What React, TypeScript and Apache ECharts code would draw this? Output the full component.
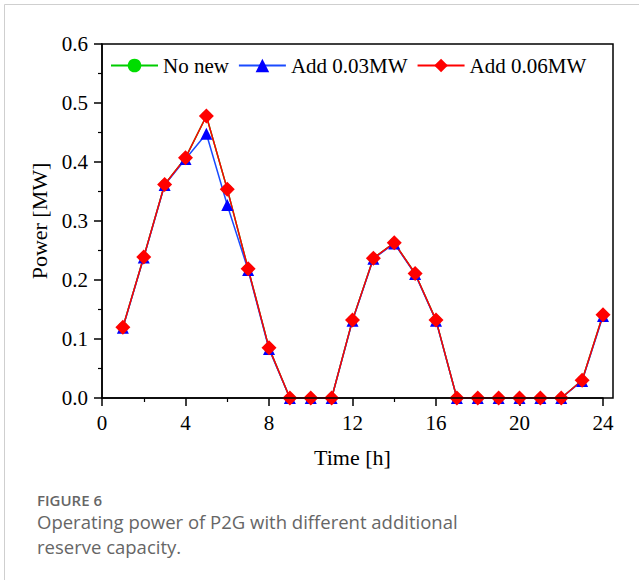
import React, { useEffect, useRef } from "react";
import * as echarts from "echarts";

// Hour of day, 1..24
const hours: number[] = Array.from({ length: 24 }, (_, i) => i + 1);

// P2G operating power [MW] for each reserve-capacity case
const noNew: number[] = [
  0.12, 0.239, 0.362, 0.407, 0.478, 0.354, 0.219, 0.085, 0, 0, 0, 0.132,
  0.237, 0.263, 0.211, 0.132, 0, 0, 0, 0, 0, 0, 0.03, 0.141,
];
const add003: number[] = [
  0.119, 0.238, 0.361, 0.405, 0.448, 0.327, 0.217, 0.083, 0, 0, 0, 0.131,
  0.236, 0.262, 0.21, 0.131, 0, 0, 0, 0, 0, 0, 0.029, 0.139,
];
const add006: number[] = [
  0.12, 0.239, 0.362, 0.407, 0.478, 0.354, 0.219, 0.085, 0, 0, 0, 0.132,
  0.237, 0.263, 0.211, 0.132, 0, 0, 0, 0, 0, 0, 0.03, 0.141,
];

const seriesNames: string[] = ["No new", "Add 0.03MW", "Add 0.06MW"];
const captionTitle = "FIGURE 6";
const captionLines: string[] = [
  "Operating power of P2G with different additional",
  "reserve capacity.",
];

const SERIF = "'Liberation Serif', 'Times New Roman', serif";
const SANS = "'Open Sans', 'Noto Sans', sans-serif";

const GRID = { left: 102, top: 44, width: 501, height: 354 };
const FRAME_RIGHT = 613;

export default function App() {
  const ref = useRef<HTMLDivElement>(null);

  useEffect(() => {
    if (!ref.current) return;
    const chart = echarts.init(ref.current, null, { renderer: "svg" });

    const pair = (vals: number[]) => hours.map((h, i) => [h, vals[i]]);

    const axisCommon = {
      axisLine: { show: true, lineStyle: { color: "#000", width: 1.5 } },
      axisTick: { show: true, inside: false, length: 8, lineStyle: { color: "#000", width: 1.5 } },
      minorTick: { show: true, splitNumber: 2, length: 4, lineStyle: { color: "#000", width: 1.2 } },
      splitLine: { show: false },
      axisLabel: { color: "#000", fontFamily: SERIF, fontSize: 21, margin: 14 },
      nameTextStyle: { color: "#000", fontFamily: SERIF, fontSize: 22 },
    };

    chart.setOption({
      animation: false,
      backgroundColor: "#fff",
      grid: { ...GRID, containLabel: false },
      legend: {
        left: 105,
        top: 50,
        itemWidth: 47,
        itemHeight: 17,
        itemGap: 9,
        textStyle: { color: "#000", fontFamily: SERIF, fontSize: 21 },
        data: seriesNames,
      },
      xAxis: {
        type: "value",
        min: 0,
        max: 24,
        interval: 4,
        name: "Time [h]",
        nameLocation: "middle",
        nameGap: 48,
        ...axisCommon,
      },
      yAxis: {
        type: "value",
        min: 0,
        max: 0.6,
        interval: 0.1,
        name: "Power [MW]",
        nameLocation: "middle",
        nameGap: 46,
        ...axisCommon,
        axisLabel: {
          ...axisCommon.axisLabel,
          formatter: (v: number) => v.toFixed(1),
        },
      },
      series: [
        {
          name: seriesNames[0],
          type: "line",
          data: pair(noNew),
          symbol: "circle",
          symbolSize: 10,
          lineStyle: { color: "#00cc00", width: 1.5 },
          itemStyle: { color: "#00dd00" },
        },
        {
          name: seriesNames[1],
          type: "line",
          data: pair(add003),
          symbol: "triangle",
          symbolSize: 12,
          lineStyle: { color: "#1a4bff", width: 1.5 },
          itemStyle: { color: "#0000ff" },
        },
        {
          name: seriesNames[2],
          type: "line",
          data: pair(add006),
          symbol: "diamond",
          symbolSize: 15,
          lineStyle: { color: "#ff0000", width: 1.5 },
          itemStyle: { color: "#ff0000" },
        },
      ],
      graphic: [
        // outer figure border
        {
          type: "line",
          shape: { x1: 4.5, y1: 4.5, x2: 639, y2: 4.5 },
          style: { stroke: "#cfcfcf", lineWidth: 1 },
        },
        {
          type: "line",
          shape: { x1: 4.5, y1: 4.5, x2: 4.5, y2: 580 },
          style: { stroke: "#cfcfcf", lineWidth: 1 },
        },
        // plot frame
        {
          type: "rect",
          shape: {
            x: GRID.left,
            y: GRID.top,
            width: FRAME_RIGHT - GRID.left,
            height: GRID.height,
          },
          style: { fill: "none", stroke: "#000", lineWidth: 1.5 },
          silent: true,
          z: 10,
        },
        {
          type: "text",
          left: 37,
          top: 492,
          style: {
            text: captionTitle,
            fill: "#666",
            font: `600 15px ${SANS}`,
          },
        },
        {
          type: "text",
          left: 37,
          top: 512,
          style: {
            text: captionLines[0],
            fill: "#666",
            font: `18.5px ${SANS}`,
          },
        },
        {
          type: "text",
          left: 37,
          top: 537,
          style: {
            text: captionLines[1],
            fill: "#666",
            font: `18.5px ${SANS}`,
          },
        },
      ],
    });

    return () => chart.dispose();
  }, []);

  return (
    <div
      ref={ref}
      style={{ position: "fixed", left: 0, top: 0, width: 639, height: 580 }}
    />
  );
}
